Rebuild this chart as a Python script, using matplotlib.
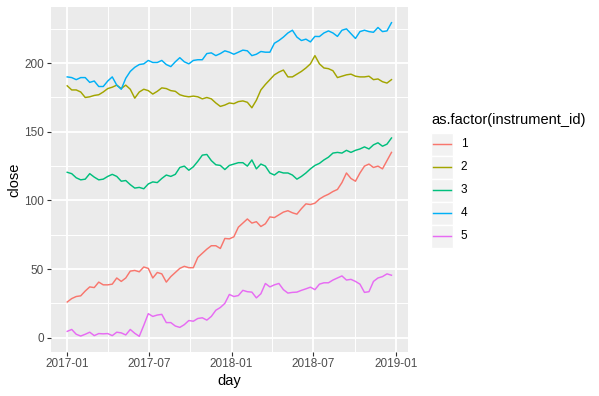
"""Closing price by instrument, ggplot-grey look (matplotlib, static PNG)."""
import matplotlib

matplotlib.use("Agg")
import matplotlib.pyplot as plt  # noqa: E402
import matplotlib.dates as mdates  # noqa: E402
import numpy as np  # noqa: E402
import pandas as pd  # noqa: E402
from matplotlib.patches import Rectangle  # noqa: E402

# sampled every 10 days from 2017-01-01
day = pd.date_range("2017-01-01", periods=73, freq="10D")

close_1 = [26, 28.5, 30, 30.5, 34, 37, 36.5, 40.5, 38.5, 38.5, 39, 43.5, 41,
           43.5, 48.5, 49, 48, 51.5, 50.5, 43.5, 47.5, 46.5, 40.5, 44.5, 47.5,
           50.5, 52, 51, 51, 58.5, 61.5, 64.5, 67, 67, 65, 72.3, 72, 73.5,
           80.5, 83.5, 86.5, 83.5, 84.5, 81, 83, 88, 87.5, 89.5, 91.5, 92.5,
           91, 90, 94, 97.5, 97, 98, 101, 103, 104.5, 106.5, 108, 113, 120,
           116, 114, 120, 125, 126.5, 124, 125, 123, 129, 135]
close_2 = [183.5, 180.5, 180.5, 179, 175, 175.5, 176.5, 177, 179, 181.5,
           182.5, 184, 181.5, 184, 181, 174.5, 179, 181, 180, 177.5, 179.5,
           182, 181.5, 180, 179.5, 177, 176, 175.5, 176, 175.5, 174, 175, 174,
           171, 168.5, 169.5, 171, 170.5, 172, 172.5, 171.5, 167.5, 173,
           180.5, 184.5, 188, 191.5, 193.5, 195, 190, 190, 192, 194, 196.5,
           199.5, 205.5, 199.5, 196.5, 196, 194.5, 189.5, 190.5, 191.5, 192,
           190.5, 190, 190, 190.5, 188, 188.5, 186.5, 185.5, 188]
close_3 = [120.5, 119.5, 116.5, 115, 115.5, 119.5, 117, 115, 115.5, 117.5,
           119, 117.5, 114, 114.5, 111.5, 109, 109.5, 108.5, 112, 113.5, 113,
           116, 118.5, 117.5, 119, 124, 125, 122, 124.5, 128.5, 133, 133.5,
           129, 126, 125.5, 122.5, 125.5, 126.5, 127.5, 127.5, 125, 129.5,
           123, 126.5, 125, 120, 118.5, 121, 120, 120, 118.5, 115.5, 117.5,
           120, 123, 125.5, 127, 129.5, 131.5, 134.5, 135, 134.5, 136.5, 135,
           136.5, 137.5, 139, 137.5, 140.5, 142, 139.5, 141, 145.5]
close_4 = [190, 189.5, 188, 189.5, 189.5, 186, 187, 183, 183, 187, 190, 184,
           181, 189, 194, 197, 199, 199.5, 202, 200.5, 200.5, 202, 199, 197.5,
           201, 204, 201, 199.5, 202, 202.5, 202.5, 207, 207.5, 205.5, 207,
           209, 208, 206.5, 208, 209.5, 209, 205.5, 206.5, 208.5, 208, 208,
           214.5, 216.5, 219, 222, 224, 219, 216.5, 217.5, 215.5, 219.5,
           219.4, 222, 223.5, 222, 219.5, 224, 225, 221.5, 218, 223, 224, 223,
           222.5, 226, 223, 223.5, 229.5]
close_5 = [4.6, 6, 2.5, 1.2, 2.5, 4, 1.5, 3, 2.8, 3, 1.5, 4, 3.5, 2, 6, 3.2,
           1, 9, 17.5, 15.5, 16.5, 17, 11, 11, 8.5, 7.5, 9.5, 12.5, 12, 14,
           14.5, 12.8, 15.5, 20, 22, 25, 31.5, 30, 30.7, 34.5, 33.5, 33.2, 29,
           32, 39.5, 37, 38.5, 39.5, 35, 32.5, 33, 33.2, 34.5, 35.6, 36.8, 35,
           39, 40, 40, 42, 43.5, 45, 42, 42.5, 41, 39, 33, 33.5, 41, 43.5,
           44.5, 46.5, 45.5]

instrument_id = ["1", "2", "3", "4", "5"]
series = [close_1, close_2, close_3, close_4, close_5]
# ggplot2 default hue palette for 5 levels
HUE = ["#F8766D", "#A3A500", "#00BF7D", "#00B0F6", "#E76BF3"]

_PANEL = "#EBEBEB"
_TICKLAB = "#4D4D4D"
_TICK = "#333333"

plt.rcParams.update({
    "font.family": ["Liberation Sans", "DejaVu Sans"],
    "figure.facecolor": "white", "axes.facecolor": _PANEL,
    "axes.grid": False, "font.size": 8.45,
})

W, H = 599, 396
fig = plt.figure(figsize=(W / 100, H / 100), dpi=100)
ax = fig.add_axes([51 / W, 44 / H, 356.7 / W, 345 / H])
for s in ax.spines.values():
    s.set_visible(False)

# limits with ggplot's 5% expansion
span = day[-1] - day[0]
ax.set_xlim(day[0] - span * 0.05, day[-1] + span * 0.05)
lo = min(min(s) for s in series)
hi = max(max(s) for s in series)
ax.set_ylim(lo - (hi - lo) * 0.05, hi + (hi - lo) * 0.05)

# grid: minor then major, white
major_x = pd.to_datetime(["2017-01-01", "2017-07-01", "2018-01-01",
                          "2018-07-01", "2019-01-01"])
minor_x = pd.to_datetime(["2017-04-01", "2017-10-01", "2018-04-01",
                          "2018-10-01"])
for d in minor_x:
    ax.axvline(d, color="white", lw=0.7, zorder=1)
for v in [25, 75, 125, 175, 225]:
    ax.axhline(v, color="white", lw=0.7, zorder=1)
for d in major_x:
    ax.axvline(d, color="white", lw=1.35, zorder=1)
for v in [0, 50, 100, 150, 200]:
    ax.axhline(v, color="white", lw=1.35, zorder=1)

for vals, col in zip(series, HUE):
    ax.plot(day, vals, color=col, lw=1.05, zorder=3)

ax.set_xticks(major_x)
ax.xaxis.set_major_formatter(mdates.DateFormatter("%Y-%m"))
ax.set_yticks([0, 50, 100, 150, 200])
ax.tick_params(axis="both", colors=_TICK, labelcolor=_TICKLAB, length=2.6,
               width=0.8, labelsize=8.45)
ax.tick_params(axis="x", pad=1.6)
ax.tick_params(axis="y", pad=2.6)

fig.text(14 / W, 1 - 179.5 / H, "close", rotation=90, ha="center",
         va="center", fontsize=10.5)
fig.text(229 / W, 1 - 381.5 / H, "day", ha="center", va="center",
         fontsize=10.5)

# legend drawn in pixel coordinates
lax = fig.add_axes([0, 0, 1, 1], facecolor="none")
lax.set_xlim(0, W)
lax.set_ylim(H, 0)
lax.axis("off")
lax.text(431, 120, "as.factor(instrument_id)", ha="left", va="center",
         fontsize=10.5)
for i, (lab, col) in enumerate(zip(instrument_id, HUE)):
    cy = 144.3 + 23 * i
    lax.add_patch(Rectangle((431, cy - 11.5), 21.6, 23, facecolor="#F2F2F2",
                            edgecolor="white", lw=1.0))
    lax.plot([433, 450.6], [cy, cy], color=col, lw=1.05)
    lax.text(460.7, cy, lab, ha="left", va="center", fontsize=8.45)

fig.savefig("out.png", dpi=100)
